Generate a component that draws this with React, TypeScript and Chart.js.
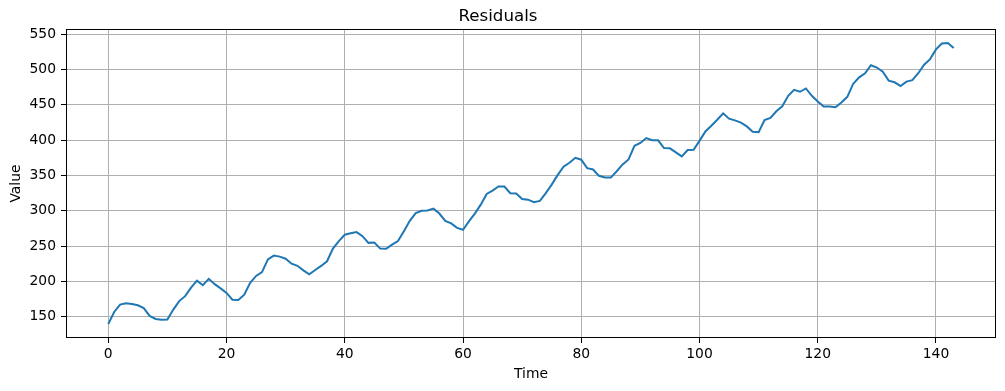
import React, { useEffect, useRef } from "react";
import { Chart, registerables } from "chart.js";

Chart.register(...registerables);

const TITLE = "Residuals";
const X_LABEL = "Time";
const Y_LABEL = "Value";

const VALUES: number[] = [
  139.6, 156.6, 167, 169, 168, 166, 162, 151, 146.7, 145.7,
  146, 160, 172, 179, 191, 201, 194.5, 203.5, 196, 190,
  183.6, 174, 173.7, 181, 198, 207.6, 213, 231, 236.5, 235,
  232, 225, 222, 215.6, 210, 216, 221.8, 228.4, 246.4, 257,
  266, 268, 269.7, 264, 254.5, 255, 246.4, 246, 252, 257,
  271, 285.7, 296.7, 300, 300.5, 303, 296, 285.7, 282, 275.7,
  273, 285, 296, 308.6, 323.8, 328.6, 334.3, 334.3, 324.8, 324.3,
  316.7, 315.7, 312, 314, 325, 337, 350.5, 362.3, 368, 375,
  372.3, 360.4, 358.5, 349.5, 347, 347, 356, 365.6, 372.7, 392,
  396, 403, 399.8, 399.8, 388.9, 388.4, 382.7, 377, 386, 386.5,
  399, 412.4, 420.5, 429, 438, 430.5, 428, 424.8, 419.5, 412,
  411.4, 428.6, 431.4, 441, 448, 462.9, 471.4, 468.6, 473.3, 462.9,
  454.8, 447.6, 447.6, 446.7, 453.5, 461.4, 480, 489, 494.8, 506.2,
  502.9, 497, 484.3, 482, 476.7, 483, 485, 494.8, 507, 514.8,
  528.6, 537, 537.6, 530.5,
];

const X_TICKS: number[] = [0, 20, 40, 60, 80, 100, 120, 140];
const Y_TICKS: number[] = [150, 200, 250, 300, 350, 400, 450, 500, 550];

const FONT = "'DejaVu Sans', sans-serif";

const framePlugin = {
  id: "frame",
  afterDraw(chart: any) {
    const { ctx, chartArea } = chart;
    const l = Math.round(chartArea.left) + 0.5;
    const t = Math.round(chartArea.top) + 0.5;
    const r = Math.round(chartArea.right) - 0.5;
    const b = Math.round(chartArea.bottom) - 0.5;
    ctx.save();
    ctx.strokeStyle = "#000000";
    ctx.lineWidth = 1;
    ctx.strokeRect(l, t, r - l, b - t);
    ctx.restore();
  },
};

export default function App() {
  const ref = useRef<HTMLCanvasElement | null>(null);

  useEffect(() => {
    if (!ref.current) return;
    const n = VALUES.length;
    const xPad = (n - 1) * 0.05;
    const vMin = Math.min(...VALUES);
    const vMax = Math.max(...VALUES);
    const yPad = (vMax - vMin) * 0.05;

    const chart = new Chart(ref.current, {
      type: "line",
      data: {
        datasets: [
          {
            data: VALUES.map((v, i) => ({ x: i, y: v })),
            borderColor: "#1f77b4",
            borderWidth: 2,
            pointRadius: 0,
            tension: 0,
            fill: false,
          },
        ],
      },
      plugins: [framePlugin],
      options: {
        animation: false,
        responsive: false,
        devicePixelRatio: 1,
        layout: { padding: { left: 0, right: 9, top: 0, bottom: 0 } },
        plugins: {
          legend: { display: false },
          tooltip: { enabled: false },
          title: {
            display: true,
            text: TITLE,
            color: "#000000",
            font: { family: FONT, size: 16.67, weight: "normal" },
            padding: { top: 7, bottom: 2 },
          },
        },
        scales: {
          x: {
            type: "linear",
            min: -xPad,
            max: n - 1 + xPad,
            afterBuildTicks: (s: any) => {
              s.ticks = X_TICKS.map((v) => ({ value: v }));
            },
            afterFit: (s: any) => {
              s.height = 53;
            },
            ticks: {
              color: "#000000",
              font: { family: FONT, size: 13.89 },
              padding: 3,
              maxRotation: 0,
              autoSkip: false,
              callback: (v: any) => String(v),
            },
            grid: {
              color: "#b0b0b0",
              lineWidth: 1,
              tickColor: "#000000",
              tickLength: 5,
              drawTicks: true,
            },
            border: { display: false },
            title: {
              display: true,
              text: X_LABEL,
              color: "#000000",
              font: { family: FONT, size: 13.89 },
              padding: { top: 0, bottom: 8 },
            },
          },
          y: {
            type: "linear",
            min: vMin - yPad,
            max: vMax + yPad,
            afterBuildTicks: (s: any) => {
              s.ticks = Y_TICKS.map((v) => ({ value: v }));
            },
            afterFit: (s: any) => {
              s.width = 66;
            },
            ticks: {
              color: "#000000",
              font: { family: FONT, size: 13.89 },
              padding: 5,
              autoSkip: false,
              callback: (v: any) => String(v),
            },
            grid: {
              color: "#b0b0b0",
              lineWidth: 1,
              tickColor: "#000000",
              tickLength: 5,
              drawTicks: true,
            },
            border: { display: false },
            title: {
              display: true,
              text: Y_LABEL,
              color: "#000000",
              font: { family: FONT, size: 13.89 },
              padding: { top: 8, bottom: 0 },
            },
          },
        },
      },
    } as any);

    return () => {
      chart.destroy();
    };
  }, []);

  return (
    <div
      style={{
        position: "fixed",
        left: 0,
        top: 0,
        width: 1005,
        height: 391,
        background: "#ffffff",
      }}
    >
      <canvas ref={ref} width={1005} height={391} />
    </div>
  );
}
